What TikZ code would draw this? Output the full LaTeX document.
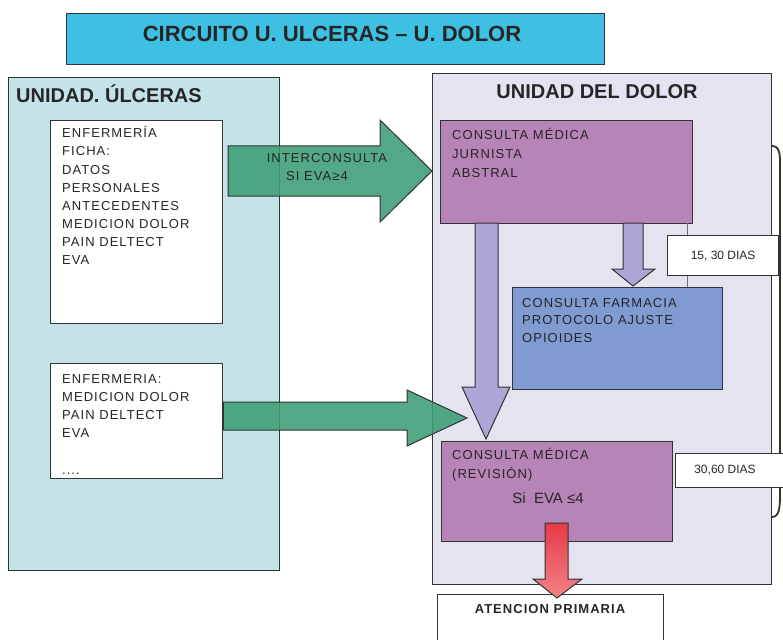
\documentclass[tikz,border=0pt]{standalone}
\usepackage{fontspec}
\setmainfont{Liberation Sans}
\newfontfamily\boxfont{Liberation Sans}[LetterSpace=8]
\newfontfamily\titlefont{Liberation Sans}
\definecolor{titlecyan}{HTML}{3DC0E2}
\definecolor{leftfill}{HTML}{C3E3E8}
\definecolor{rightfill}{HTML}{E4E4F1}
\definecolor{purplebox}{HTML}{B784B8}
\definecolor{bluebox}{HTML}{7F9BD1}
\definecolor{greenarr}{HTML}{3C9E75}
\definecolor{lavarr}{HTML}{AEA6D6}
\definecolor{bordercol}{HTML}{333333}
\definecolor{txtcol}{HTML}{262626}
\definecolor{redtop}{HTML}{E63A48}
\definecolor{redbot}{HTML}{F28484}
\tikzset{
  boxr/.style={draw=bordercol, line width=1.3pt, inner sep=0pt, anchor=north west},
  tx/.style={anchor=base west, inner sep=0pt, text=txtcol, font=\boxfont\fontsize{13}{16}\selectfont},
  txc/.style={anchor=base, inner sep=0pt, text=txtcol, font=\boxfont\fontsize{13}{16}\selectfont},
  unitlabel/.style={inner sep=0pt, text=txtcol, font=\titlefont\bfseries\fontsize{20}{24}\selectfont},
  blockarrow/.style={draw=bordercol, line width=1pt, line join=miter},
}
\begin{document}
\begin{tikzpicture}[x=1pt,y=-1pt]
\useasboundingbox (0,0) rectangle (783,639);
\fill[white] (0,0) rectangle (783,639);

% title
\node[boxr, fill=titlecyan, minimum width=538pt, minimum height=51pt] (title) at (66,13) {};
\node[anchor=base, inner sep=0pt, text=txtcol, font=\titlefont\bfseries\fontsize{22}{26}\selectfont] (titletext) at (332,42) {CIRCUITO U. ULCERAS – U. DOLOR};

% units
\node[boxr, fill=rightfill, minimum width=339pt, minimum height=511pt] (dolor) at (432,73) {};
\node[boxr, fill=leftfill, minimum width=271pt, minimum height=493pt] (ulceras) at (8,77) {};
\node[unitlabel, anchor=base west] (ulceraslabel) at (16,103) {UNIDAD. ÚLCERAS};
\node[unitlabel, anchor=base] (dolorlabel) at (597,99) {UNIDAD DEL DOLOR};

% white boxes
\node[boxr, fill=white, minimum width=172pt, minimum height=203pt] (ficha) at (50,120) {};
\foreach \t [count=\i] in {ENFERMERÍA, FICHA:, DATOS, PERSONALES, ANTECEDENTES, MEDICION DOLOR, PAIN DELTECT, EVA}
  \node[tx] (fl\i) at (62,{138+18*(\i-1)}) {\t};
\node[boxr, fill=white, minimum width=172pt, minimum height=115pt] (enf) at (50,363) {};
\foreach \t [count=\i] in {ENFERMERIA:, MEDICION DOLOR, PAIN DELTECT, EVA}
  \node[tx] (el\i) at (62,{383+18*(\i-1)}) {\t};
\node[tx] (eldots) at (62,474) {....};

% bracket on the right
\draw[bordercol, line width=1.8pt] (772,146) .. controls (780,146) and (780,155) .. (780,165) -- (780,495) .. controls (780,508) and (779,517) .. (772,517);

% medical consult boxes
\node[boxr, fill=purplebox, minimum width=252pt, minimum height=103pt] (cm1) at (440,120) {};
\node[boxr, fill=bluebox, minimum width=210pt, minimum height=102pt] (farm) at (512,287) {};
\node[boxr, fill=purplebox, minimum width=231pt, minimum height=100pt] (cm2) at (441,441) {};

% thin connector cm1 -> farm
\coordinate (c15a) at (687,223);
\coordinate (c15b) at (687,287);
\draw[bordercol!70, line width=0.8pt] (c15a) -- (c15b);

% lavender arrows
\draw[blockarrow, fill=lavarr] (475,223) -- (498,223) -- (498,387) -- (510,387) -- (486,439) -- (462,387) -- (475,387) -- cycle;
\draw[blockarrow, fill=lavarr] (623,223) -- (643,223) -- (643,269) -- (655,269) -- (633,286) -- (612,269) -- (623,269) -- cycle;

% text in boxes
\node[tx] (cm1a) at (452,140) {CONSULTA MÉDICA};
\node[tx] (cm1b) at (452,158) {JURNISTA};
\node[tx] (cm1c) at (452,177) {ABSTRAL};
\node[tx] (fa) at (522,307) {CONSULTA FARMACIA};
\node[tx] (fb) at (522,324) {PROTOCOLO AJUSTE};
\node[tx] (fc) at (522,342) {OPIOIDES};
\node[tx] (cm2a) at (452,459) {CONSULTA MÉDICA};
\node[tx] (cm2b) at (452,478) {(REVISIÓN)};
\node[anchor=base, inner sep=0pt, text=txtcol, font=\titlefont\fontsize{15}{18}\selectfont] (cm2c) at (548,503) {Si\ \ EVA ≤4};

% green arrows
\draw[blockarrow, fill=greenarr, fill opacity=0.88] (228,146) -- (380,146) -- (380,120) -- (432,171) -- (380,222) -- (380,196) -- (228,196) -- cycle;
\node[txc] (inter1) at (327,162) {INTERCONSULTA};
\node[txc] (inter2) at (317,180) {SI EVA≥4};
\draw[blockarrow, fill=greenarr, fill opacity=0.88] (enf.east |- 0,402) -- (407,402) -- (407,390) -- (467,418) -- (407,446) -- (407,430) -- (enf.east |- 0,430) -- cycle;

% day labels
\node[boxr, fill=white, minimum width=111pt, minimum height=40pt] (d15) at (667,235) {};
\node[anchor=center, inner sep=0pt, text=txtcol, font=\titlefont\fontsize{12}{14}\selectfont] (d15t) at (d15.center) {15, 30 DIAS};
\node[boxr, fill=white, minimum width=112pt, minimum height=34pt] (d30) at (675,453) {};
\node[anchor=center, inner sep=0pt, text=txtcol, font=\titlefont\fontsize{12}{14}\selectfont] (d30t) at (725,470) {30,60 DIAS};

% atencion primaria
\node[boxr, fill=white, minimum width=226pt, minimum height=60pt] (ap) at (437,594) {};
\node[anchor=base, inner sep=0pt, text=txtcol, font=\boxfont\bfseries\fontsize{13}{16}\selectfont] (aptext) at (550,613) {ATENCION PRIMARIA};

% red arrow
\shadedraw[blockarrow, top color=redtop, bottom color=redbot] (545,523) -- (568,523) -- (568,579) -- (582,579) -- (557,598) -- (533,579) -- (545,579) -- cycle;
\end{tikzpicture}
\end{document}
